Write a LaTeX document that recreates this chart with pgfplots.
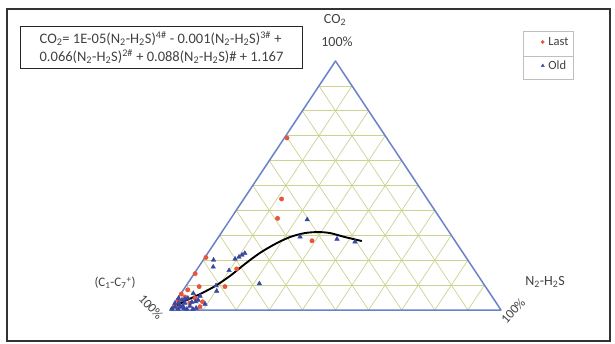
\documentclass[border=0pt]{standalone}
\usepackage{pgfplots}
\pgfplotsset{compat=1.18}
\usepackage{pgfplotstable}
\usepackage{fontspec}
\setmainfont{Carlito}

\definecolor{edgeblue}{RGB}{105,130,200}
\definecolor{gridgreen}{RGB}{205,210,145}
\definecolor{lastred}{RGB}{232,85,60}
\definecolor{oldblue}{RGB}{55,70,160}
\definecolor{txtgray}{RGB}{65,65,65}

% one small mark per legend entry
\pgfplotsset{single mark legend/.style={
  legend image code/.code={\draw[##1] plot coordinates {(4pt,0pt)};}}}

% Ternary compositions in percent: n = N2-H2S, c = CO2 (rest is C1-C7+)
\pgfplotstableread{
n c
0.8 69.1
11.4 44.6
14.1 36.8
29.0 27.8
0.3 21.1
0.3 14.6
11.9 16.5
11.9 9.4
4.1 9.4
1.3 8.1
0.2 6.4
8.2 3.3
8.4 1.3
5.2 4.8
0.4 4.0
1.9 5.2
4.6 2.8
0.5 2.0
}\lastdata

\pgfplotstableread{
n c
23.3 36.3
24.6 29.4
36.2 28.5
42.2 27.4
3.1 20.1
4.4 17.3
10.2 21.3
9.4 20.5
10.7 22.1
11.2 22.8
9.9 15.9
21.7 10.6
9.0 9.8
10.3 7.6
3.7 6.7
0.9 1.2
2.0 2.0
3.1 2.8
5.2 1.6
7.5 0.8
1.6 4.0
3.0 4.8
2.2 0.4
0.4 0.4
9.4 2.4
6.3 5.6
1.2 2.8
4.0 0.6
2.6 1.2
6.0 3.4
0.1 2.8
3.1 1.6
5.0 3.2
6.5 4.0
4.9 0.4
6.7 0.4
0.2 4.8
2.3 4.4
}\olddata

% Fitted trend line
\pgfplotstableread{
n c
0.0 0.4
2.7 3.6
5.9 6.4
8.8 9.6
11.3 13.7
13.4 18.5
15.7 22.9
18.5 26.5
21.6 29.3
25.3 30.9
29.1 31.3
32.9 30.9
38.2 29.3
44.1 27.7
}\trenddata

\begin{document}
\begin{tikzpicture}
\begin{axis}[
  width=615pt, height=343pt, scale only axis,
  xmin=-51.36, xmax=134.44, ymin=-13.25, ymax=124.5,
  axis lines=none, clip=false,
  legend style={at={(rel axis cs:{541/615},{1-36/343})}, anchor=north west,
    draw=none, fill=none, font=\fontsize{12.5}{14}\selectfont, text=txtgray,
    row sep=12pt, inner sep=0pt, nodes={inner sep=1pt},
    /tikz/every odd column/.append style={column sep=3pt}},
  legend cell align=left,
]
\path (rel axis cs:0,0) rectangle (rel axis cs:1,1);

% ternary grid, 10% steps
\pgfplotsinvokeforeach{10,20,...,90}{
  \draw[gridgreen, line width=0.7pt] (axis cs:{#1/2},#1) -- (axis cs:{100-#1/2},#1);
  \draw[gridgreen, line width=0.7pt] (axis cs:#1,0) -- (axis cs:{#1+(100-#1)/2},{100-#1});
  \draw[gridgreen, line width=0.7pt] (axis cs:#1,0) -- (axis cs:{#1/2},#1);
}
\draw[edgeblue, line width=1.5pt, line join=round] (axis cs:0,0) -- (axis cs:100,0) -- (axis cs:50,100) -- cycle;

\addplot[only marks, mark=*, mark size=2.2pt, color=lastred,
  single mark legend, legend image post style={mark size=1.6pt}]
  table[x expr=\thisrow{n}+0.5*\thisrow{c}, y=c] {\lastdata};
\addlegendentry{Last}
\addplot[only marks, mark=triangle*, mark size=2.6pt, color=oldblue,
  single mark legend, legend image post style={mark size=1.8pt}]
  table[x expr=\thisrow{n}+0.5*\thisrow{c}, y=c] {\olddata};
\addlegendentry{Old}
\addplot[black, line width=1.9pt, smooth, forget plot]
  table[x expr=\thisrow{n}+0.5*\thisrow{c}, y=c] {\trenddata};

% legend frame
\draw[gray!50] (rel axis cs:{523/615},{1-31/343}) rectangle (rel axis cs:{573/615},{1-79/343});
\draw[gray!50] (rel axis cs:{523/615},{1-56/343}) -- (rel axis cs:{573/615},{1-56/343});

% labels
\node[text=txtgray, font=\fontsize{14}{16}\selectfont] at (rel axis cs:{335/615},{1-20/343}) {CO\textsubscript{2}};
\node[text=txtgray, font=\fontsize{14}{16}\selectfont] at (rel axis cs:{337/615},{1-42/343}) {100\%};
\node[text=txtgray, font=\fontsize{13}{15}\selectfont] at (rel axis cs:{115/615},{1-283/343}) {(C\textsubscript{1}-C\textsubscript{7}\textsuperscript{+})};
\node[text=txtgray, font=\fontsize{13}{15}\selectfont, rotate=-48, inner sep=0pt] at (rel axis cs:{151/615},{1-307/343}) {100\%};
\node[text=txtgray, font=\fontsize{14}{16}\selectfont] at (rel axis cs:{545/615},{1-282/343}) {N\textsubscript{2}-H\textsubscript{2}S};
\node[text=txtgray, font=\fontsize{13}{15}\selectfont, rotate=48, inner sep=0pt] at (rel axis cs:{513/615},{1-311/343}) {100\%};

% equation box
\node[draw=black!85, line width=1.1pt, anchor=north west, minimum width=282pt, minimum height=42pt,
      align=left, text=txtgray, font=\fontsize{14.5}{18}\selectfont, inner sep=0pt]
  at (rel axis cs:{20/615},{1-26/343})
  {CO\textsubscript{2}= 1E-05(N\textsubscript{2}-H\textsubscript{2}S)\textsuperscript{4\#} - 0.001(N\textsubscript{2}-H\textsubscript{2}S)\textsuperscript{3\#} +\\
   0.066(N\textsubscript{2}-H\textsubscript{2}S)\textsuperscript{2\#} + 0.088(N\textsubscript{2}-H\textsubscript{2}S)\# + 1.167};

% outer frame
\draw[black!80, line width=1.3pt] (rel axis cs:{7/615},{1-9/343}) rectangle (rel axis cs:{610/615},{1-341/343});
\end{axis}
\end{tikzpicture}
\end{document}
